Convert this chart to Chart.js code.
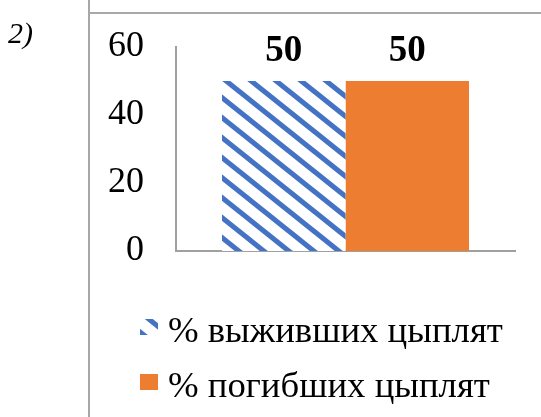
<!DOCTYPE html>
<html>
<head>
<meta charset="utf-8">
<script src="https://cdn.jsdelivr.net/npm/chart.js@4.4.1/dist/chart.umd.min.js"></script>
<style>
  html, body { margin: 0; padding: 0; background: #fff; }
  #wrap { position: relative; width: 541px; height: 417px; overflow: hidden; }
  #c { position: absolute; left: 0; top: 0; }
  .vline { position: absolute; left: 88px; top: 0; width: 2px; height: 417px; background: #a8a8a8; }
  .hline { position: absolute; left: 90px; top: 12px; width: 451px; height: 2px; background: #a8a8a8; }
  .num { position: absolute; left: 8px; top: 18px; font: italic 30px/1 "Liberation Serif", serif; color: #000; }
</style>
</head>
<body>
<div id="wrap">
  <canvas id="c" width="541" height="417"></canvas>
  <div class="vline"></div>
  <div class="hline"></div>
  <div class="num">2)</div>
</div>
<script>
// Chart data
const categories = [''];
const seriesLabels = ['% выживших цыплят', '% погибших цыплят'];
const survived = [50];
const died = [50];
const yTicks = [0, 20, 40, 60];

const BLUE = '#4472C4';
const ORANGE = '#ED7D31';
const AXIS = '#a0a0a0';
const FONT = '"Liberation Serif", "Times New Roman", serif';

// Diagonal blue stripes on white
function stripePattern() {
  const w = 25, h = 20;
  const t = document.createElement('canvas');
  t.width = w; t.height = h;
  const g = t.getContext('2d');
  g.fillStyle = '#fff';
  g.fillRect(0, 0, w, h);
  g.strokeStyle = BLUE;
  g.lineWidth = 5;
  for (const dx of [-w, 0, w]) {
    g.beginPath();
    g.moveTo(dx - w, -h);
    g.lineTo(dx + 2 * w, 2 * h);
    g.stroke();
  }
  return g.createPattern(t, 'repeat');
}
const stripes = stripePattern();

// Bold value labels above each bar
const valueLabels = {
  id: 'valueLabels',
  afterDatasetsDraw(chart) {
    const ctx = chart.ctx;
    ctx.save();
    ctx.font = 'bold 37px ' + FONT;
    ctx.fillStyle = '#000';
    ctx.textAlign = 'center';
    ctx.textBaseline = 'alphabetic';
    chart.data.datasets.forEach((ds, i) => {
      chart.getDatasetMeta(i).data.forEach((bar, j) => {
        ctx.fillText(String(ds.data[j]), bar.x, bar.y - 20);
      });
    });
    ctx.restore();
  }
};

// Vertical legend under the plot
const stackedLegend = {
  id: 'stackedLegend',
  afterDraw(chart) {
    const ctx = chart.ctx;
    const area = chart.chartArea;
    const x0 = area.left - 36;
    let base = area.bottom + 91;
    ctx.save();
    ctx.font = '36px ' + FONT;
    ctx.textBaseline = 'alphabetic';
    ctx.textAlign = 'left';
    chart.data.datasets.forEach(ds => {
      ctx.fillStyle = ds.backgroundColor;
      ctx.fillRect(x0, base - 23, 18, 16);
      ctx.fillStyle = '#000';
      ctx.save();
      ctx.translate(x0 + 28, base);
      ctx.scale(1.02, 1);
      ctx.fillText(ds.label, 0, 0);
      ctx.restore();
      base += 55;
    });
    ctx.restore();
  }
};

new Chart(document.getElementById('c'), {
  type: 'bar',
  data: {
    labels: categories,
    datasets: [
      { label: seriesLabels[0], data: survived, backgroundColor: stripes, borderWidth: 0 },
      { label: seriesLabels[1], data: died, backgroundColor: ORANGE, borderWidth: 0 }
    ]
  },
  options: {
    responsive: false,
    animation: false,
    devicePixelRatio: 1,
    layout: { padding: { left: 90, right: 26, top: 47, bottom: 166 } },
    datasets: { bar: { barPercentage: 1, categoryPercentage: 0.7286 } },
    plugins: { legend: { display: false }, tooltip: { enabled: false } },
    scales: {
      x: {
        grid: { display: false, drawTicks: false },
        border: { display: true, color: AXIS, width: 2 },
        ticks: { display: false },
        afterFit(s) { s.height = 0; }
      },
      y: {
        min: yTicks[0],
        max: yTicks[yTicks.length - 1],
        afterBuildTicks(s) { s.ticks = yTicks.map(v => ({ value: v })); },
        grid: { display: false, drawTicks: false },
        border: { display: true, color: AXIS, width: 2 },
        ticks: { padding: 32, color: '#000', font: { family: FONT, size: 36, lineHeight: 0.4 } },
        afterFit(s) { s.width = 86; }
      }
    }
  },
  plugins: [valueLabels, stackedLegend]
});
</script>
</body>
</html>
